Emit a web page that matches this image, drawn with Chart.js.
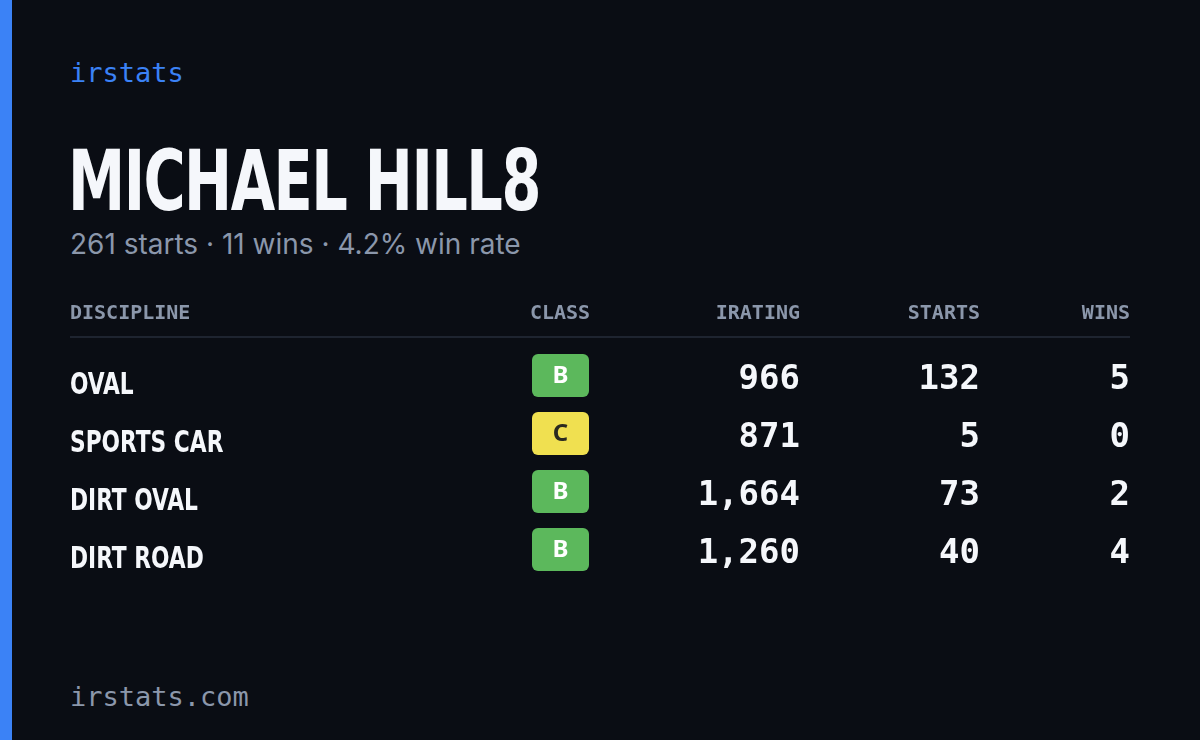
<!DOCTYPE html>
<html>
<head>
<meta charset="utf-8">
<script src="https://cdn.jsdelivr.net/npm/chart.js@4.4.0/dist/chart.umd.min.js"></script>
<style>
  html, body { margin: 0; padding: 0; background: #0a0d14; width: 1200px; height: 740px; overflow: hidden; }
  .bar { position: absolute; left: 0; top: 0; width: 12px; height: 740px; background: #3b82f6; }
  .brand { position: absolute; left: 70px; top: 57px; font: 27px "DejaVu Sans Mono", monospace; color: #3b82f6; }
  .title { position: absolute; left: 68px; top: 132px; font: bold 84px "DejaVu Sans Condensed", "Liberation Sans Narrow", sans-serif; color: #f5f7fb; letter-spacing: -2px; transform: scaleX(0.76); transform-origin: left; }
  .sub { position: absolute; left: 70px; top: 227px; font: 28px "Inter", "Noto Sans", sans-serif; color: #8b97ab; }
  .foot { position: absolute; left: 70px; top: 681px; font: 27px "DejaVu Sans Mono", monospace; color: #8b97ab; }
  #wrap { position: absolute; left: 70px; top: 290px; width: 1060px; height: 300px; }
</style>
</head>
<body>
<div class="bar"></div>
<div class="brand">irstats</div>
<div class="title">MICHAEL HILL8</div>
<div class="sub">261 starts · 11 wins · 4.2% win rate</div>
<div class="foot">irstats.com</div>
<div id="wrap"><canvas id="chart"></canvas></div>
<script>
const columns = ['DISCIPLINE', 'CLASS', 'IRATING', 'STARTS', 'WINS'];
const disciplines = ['OVAL', 'SPORTS CAR', 'DIRT OVAL', 'DIRT ROAD'];
const classes = ['B', 'C', 'B', 'B'];
const iratings = [966, 871, 1664, 1260];
const starts = [132, 5, 73, 40];
const wins = [5, 0, 2, 4];

// column anchors in chart x units (0..1060)
const colX = [0, 490, 730, 910, 1060];
const colAlign = ['left', 'center', 'right', 'right', 'right'];
const classColors = { B: '#5cb85c', C: '#f0e050' };

const tablePlugin = {
    id: 'table',
    afterDraw(chart) {
        const ctx = chart.ctx;
        const xs = chart.scales.x;
        const ys = chart.scales.y;
        ctx.save();
        // header
        ctx.font = 'bold 20px "DejaVu Sans Mono", monospace';
        ctx.fillStyle = '#8b97ab';
        ctx.textBaseline = 'middle';
        const hy = 24;
        columns.forEach((c, i) => {
            ctx.textAlign = colAlign[i];
            ctx.fillText(c, xs.getPixelForValue(colX[i]), hy);
        });
        ctx.strokeStyle = '#1e2430';
        ctx.lineWidth = 2;
        ctx.beginPath();
        ctx.moveTo(xs.getPixelForValue(0), 47);
        ctx.lineTo(xs.getPixelForValue(1060), 47);
        ctx.stroke();

        disciplines.forEach((d, r) => {
            const y = ys.getPixelForValue(r);
            ctx.textAlign = 'left';
            ctx.fillStyle = '#f5f7fb';
            ctx.font = 'bold 31px "DejaVu Sans Condensed", sans-serif';
            ctx.save();
            ctx.translate(xs.getPixelForValue(colX[0]), y + 8);
            ctx.scale(0.78, 1);
            ctx.fillText(d, 0, 0);
            ctx.restore();

            const cx = xs.getPixelForValue(colX[1]);
            ctx.fillStyle = classColors[classes[r]];
            ctx.beginPath();
            ctx.roundRect(cx - 28, y - 24, 57, 43, 6);
            ctx.fill();
            ctx.fillStyle = classes[r] === 'C' ? '#2a2a20' : '#ffffff';
            ctx.textAlign = 'center';
            ctx.font = 'bold 24px "Noto Sans", sans-serif';
            ctx.fillText(classes[r], cx + 0.5, y - 2);

            ctx.fillStyle = '#f5f7fb';
            ctx.textAlign = 'right';
            ctx.font = 'bold 34px "DejaVu Sans Mono", monospace';
            ctx.fillText(iratings[r].toLocaleString('en-US'), xs.getPixelForValue(colX[2]), y + 2);
            ctx.fillText(String(starts[r]), xs.getPixelForValue(colX[3]), y + 2);
            ctx.fillText(String(wins[r]), xs.getPixelForValue(colX[4]), y + 2);
        });
        ctx.restore();
    }
};

new Chart(document.getElementById('chart').getContext('2d'), {
    type: 'scatter',
    data: { datasets: [{ data: disciplines.map((d, i) => ({ x: 0, y: i })), pointRadius: 0 }] },
    options: {
        responsive: true,
        maintainAspectRatio: false,
        animation: false,
        layout: { padding: 0 },
        plugins: { legend: { display: false }, tooltip: { enabled: false } },
        scales: {
            x: { type: 'linear', min: 0, max: 1060, display: false },
            // rows at 88, 146, 204, 262 within the 300px canvas
            y: { type: 'linear', min: -1.517, max: 3.655, reverse: true, display: false }
        }
    },
    plugins: [tablePlugin]
});
</script>
</body>
</html>
